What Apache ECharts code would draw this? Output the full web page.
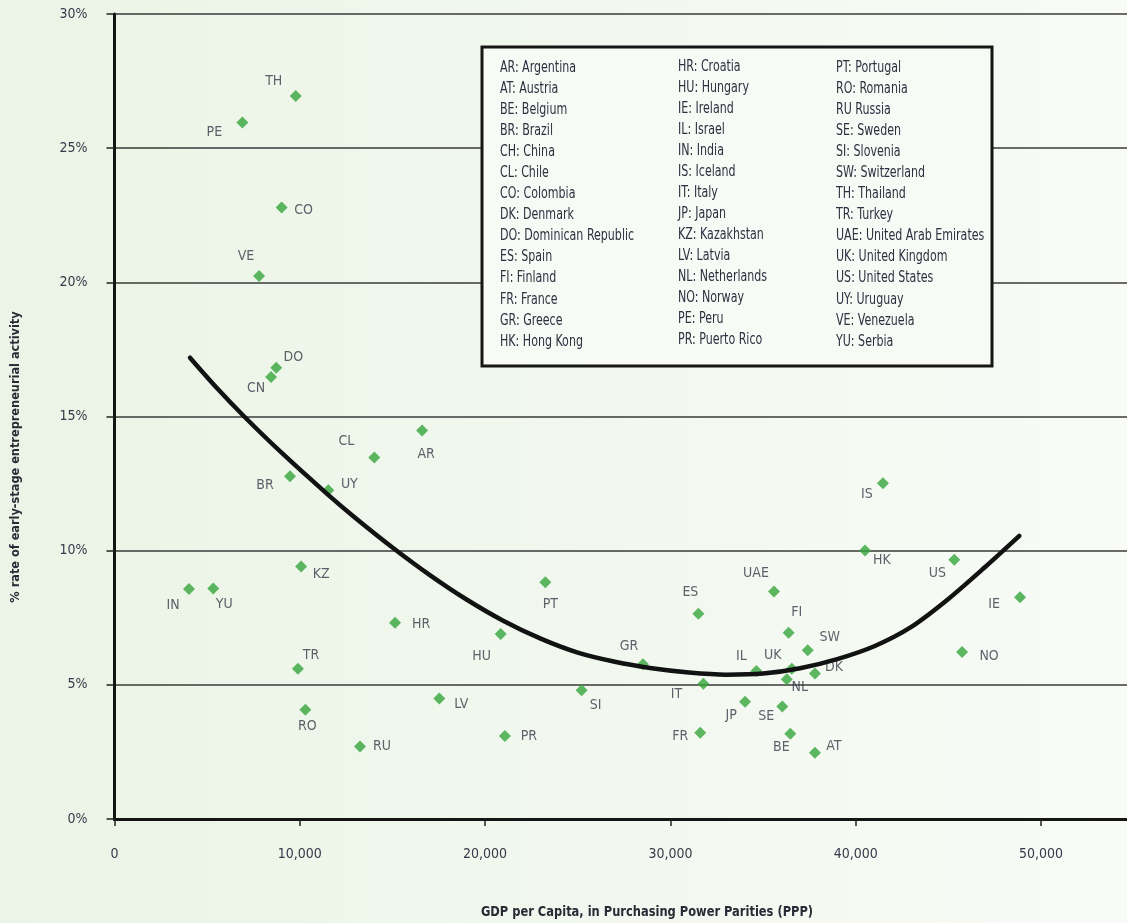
<!DOCTYPE html>
<html><head><meta charset="utf-8">
<script src="https://cdn.jsdelivr.net/npm/echarts@6/dist/echarts.min.js"></script>
<style>html,body{margin:0;padding:0;background:#f3f8f0;}#c{width:1127px;height:923px;}</style>
</head><body><div id="c"></div>
<script>
// ---- data ----
const codes = ['TH','PE','CO','VE','DO','CN','CL','AR','BR','UY','KZ','IN','YU','TR','RO','RU',
  'HR','PT','ES','UAE','HU','GR','IT','IL','UK','LV','SI','JP','SE','PR','FR','BE','AT',
  'IS','HK','US','IE','FI','SW','NL','DK','NO'];
const gdp = [9780,6900,9020,7800,8730,8450,14020,16600,9470,11540,10070,4020,5330,9900,10300,13250,
  15140,23250,31510,35590,20840,28520,31780,34640,36550,17530,25210,34030,36040,21070,31610,36470,37800,
  41470,40500,45320,48870,36380,37410,36280,37800,45740];
const rate = [26.94,25.96,22.79,20.24,16.82,16.47,13.47,14.48,12.77,12.25,9.41,8.57,8.59,5.60,4.07,2.70,
  7.31,8.82,7.65,8.48,6.89,5.77,5.04,5.52,5.60,4.49,4.80,4.37,4.19,3.09,3.21,3.18,2.47,
  12.51,10.01,9.66,8.26,6.94,6.29,5.21,5.42,6.22];
// trend curve, points
const curveGdp = [4075,5500,7000,9000,11500,13000,15000,17000,19000,21000,23000,25000,27000,29000,31000,33000,35000,37000,39000,41000,43000,45000,47000,48830];
const curveRate = [17.19,16.08,15.00,13.66,12.10,11.22,10.12,9.10,8.18,7.38,6.72,6.20,5.86,5.62,5.46,5.38,5.42,5.62,5.96,6.44,7.16,8.20,9.40,10.55];
const legendEntries = [
  'AR: Argentina','AT: Austria','BE: Belgium','BR: Brazil','CH: China','CL: Chile','CO: Colombia','DK: Denmark','DO: Dominican Republic','ES: Spain','FI: Finland','FR: France','GR: Greece','HK: Hong Kong',
  'HR: Croatia','HU: Hungary','IE: Ireland','IL: Israel','IN: India','IS: Iceland','IT: Italy','JP: Japan','KZ: Kazakhstan','LV: Latvia','NL: Netherlands','NO: Norway','PE: Peru','PR: Puerto Rico',
  'PT: Portugal','RO: Romania','RU Russia','SE: Sweden','SI: Slovenia','SW: Switzerland','TH: Thailand','TR: Turkey','UAE: United Arab Emirates','UK: United Kingdom','US: United States','UY: Uruguay','VE: Venezuela','YU: Serbia'];
const xTitle = 'GDP per Capita, in Purchasing Power Parities (PPP)';
const yTitle = '% rate of early-stage entrepreneurial activity';

// ---- styling (label placement in pixels) ----
const labelOffset = {TH:[-22,-15],PE:[-28,10],CO:[22,3],VE:[-13,-20],DO:[17,-10],CN:[-15,11],CL:[-28,-16],AR:[4,24],
  BR:[-25,9],UY:[21,-6],KZ:[20,8],IN:[-16,16],YU:[11,16],TR:[13,-13],RO:[2,17],RU:[22,0],HR:[26,2],PT:[5,22],
  ES:[-8,-21],UAE:[-18,-18],HU:[-19,22],GR:[-14,-18],IT:[-27,11],IL:[-15,-15],UK:[-19,-13],LV:[22,6],SI:[14,15],
  JP:[-14,14],SE:[-16,10],PR:[24,0],FR:[-20,3],BE:[-9,14],AT:[19,-6],IS:[-16,11],HK:[17,10],US:[-17,14],IE:[-26,7],
  FI:[8,-20],SW:[22,-13],NL:[13,8],DK:[19,-6],NO:[27,4]};
const F = "'Liberation Sans Narrow','DejaVu Sans Condensed','Arial Narrow',sans-serif";
const TXT = '#383849';
const BG = {type:'linear',x:0,y:0,x2:1,y2:0,colorStops:[{offset:0,color:'#ebf4e6'},{offset:0.55,color:'#f2f8ef'},{offset:1,color:'#f8fbf6'}]};

const points = codes.map((c,i)=>({name:c,value:[gdp[i],rate[i]],label:{offset:labelOffset[c]||[0,-14]}}));
const curve = curveGdp.map((x,i)=>[x,curveRate[i]]);

const GL = 114.5, XMAX = 54640;
const legendEls = [{type:'rect',shape:{x:482,y:47,width:510,height:319},style:{fill:'#f7faf5',stroke:'#161616',lineWidth:3},z:10}];
legendEntries.forEach((t,i)=>{
  const col = Math.floor(i/14), row = i%14;
  const xs=[500,678,836];
  legendEls.push({type:'text',x:xs[col],y:68.3+row*21.03-(col===1?1.5:0),z:11,scaleX:0.82,
    style:{text:t,font:'15px '+F,fill:'#2f2f40',textAlign:'left',textVerticalAlign:'middle'}});
});

const chart = echarts.init(document.getElementById('c'));
chart.setOption({
  backgroundColor: BG,
  animation:false,
  grid:{left:GL,right:0,top:14,bottom:104,containLabel:false},
  xAxis:[{type:'value',min:0,max:XMAX,interval:10000,
    axisLine:{show:true,onZero:false,lineStyle:{color:'#151515',width:3}},
    axisTick:{show:true,length:7,lineStyle:{color:'#222',width:1.5}},
    axisLabel:{margin:28,fontFamily:F,fontSize:14,color:TXT,showMaxLabel:false,
      formatter:v=>v.toLocaleString('en-US')},
    splitLine:{show:false}},
   {type:'value',position:'top',min:0,max:XMAX,
    axisLine:{show:true,lineStyle:{color:'#151515',width:3}},axisTick:{show:false},axisLabel:{show:false},splitLine:{show:false}}],
  yAxis:{type:'value',min:0,max:30,interval:5,
    axisLine:{show:true,lineStyle:{color:'#151515',width:3}},
    axisTick:{show:true,length:8,lineStyle:{color:'#222',width:1.5}},
    axisLabel:{margin:27,fontFamily:F,fontSize:14,color:TXT,formatter:'{value}%'},
    splitLine:{show:true,lineStyle:{color:'#3a3a3a',width:1.5}}},
  graphic:[
    ...legendEls,
    {type:'text',x:647,y:912,scaleX:0.91,style:{text:xTitle,font:'bold 14px '+F,fill:'#2a2a36',textAlign:'center',textVerticalAlign:'middle'}},
    {type:'text',x:16,y:457,rotation:Math.PI/2,scaleX:0.97,style:{text:yTitle,font:'bold 13px '+F,fill:'#2a2a36',textAlign:'center',textVerticalAlign:'middle'}}
  ],
  series:[
    {type:'scatter',xAxisIndex:0,symbol:'diamond',symbolSize:12,z:2,
     itemStyle:{color:'#35a53b'},
     label:{show:true,formatter:'{b}',position:'inside',color:TXT,fontFamily:F,fontSize:14,textBorderWidth:0,align:'center',verticalAlign:'middle'},
     data:points},
    {type:'line',xAxisIndex:0,data:curve,smooth:0.3,showSymbol:false,z:3,
     lineStyle:{color:'#121212',width:4.5,cap:'round'}}
  ]
});
</script></body></html>
